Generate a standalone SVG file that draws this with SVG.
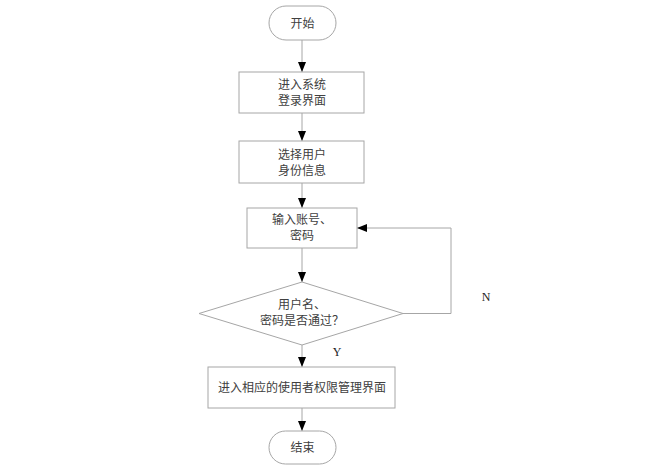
<svg xmlns="http://www.w3.org/2000/svg" width="666" height="474" viewBox="0 0 666 474">
<style>
.n{fill:#fff;stroke:#a6a6a6;stroke-width:1}
.c{fill:none;stroke:#a6a6a6;stroke-width:1}
.t{font-family:"Noto Sans CJK SC","Noto Sans",sans-serif;font-size:12px;fill:#404040;text-anchor:middle}
.l{font-family:"Liberation Serif",serif;font-size:12px;fill:#222;text-anchor:middle}
</style>
<defs>
<marker id="a" markerWidth="10" markerHeight="8" refX="10" refY="4" orient="auto" markerUnits="userSpaceOnUse" viewBox="0 0 10 8">
<path d="M0,0 L10,4 L0,8 Z" fill="#000"/>
</marker>
</defs>
<rect width="666" height="474" fill="#fff"/>
<g id="connectors">
<line class="c" x1="302" y1="40" x2="302" y2="72" marker-end="url(#a)"/>
<line class="c" x1="302" y1="113" x2="302" y2="141" marker-end="url(#a)"/>
<line class="c" x1="302" y1="183" x2="302" y2="208" marker-end="url(#a)"/>
<line class="c" x1="302" y1="248" x2="302" y2="282" marker-end="url(#a)"/>
<line class="c" x1="302" y1="345" x2="302" y2="367" marker-end="url(#a)"/>
<line class="c" x1="302" y1="408" x2="302" y2="431" marker-end="url(#a)"/>
<polyline class="c" points="403,313.5 451,313.5 451,228 357,228" marker-end="url(#a)"/>
<text class="l" x="486" y="301">N</text>
<text class="l" x="337" y="356">Y</text>
</g>
<g id="start">
<rect class="n" x="269" y="6" width="67" height="34" rx="17"/>
<text class="t" x="302.5" y="27.5">开始</text>
</g>
<g id="login">
<rect class="n" x="239" y="72" width="125" height="41"/>
<text class="t" x="302" y="89">进入系统</text>
<text class="t" x="302" y="105">登录界面</text>
</g>
<g id="select">
<rect class="n" x="239" y="141" width="125" height="42"/>
<text class="t" x="302" y="159">选择用户</text>
<text class="t" x="302" y="175">身份信息</text>
</g>
<g id="input">
<rect class="n" x="247" y="208" width="110" height="40"/>
<text class="t" x="302" y="224">输入账号、</text>
<text class="t" x="302" y="240">密码</text>
</g>
<g id="check">
<polygon class="n" points="302,282 403,313.5 302,345 199,313.5"/>
<text class="t" x="302" y="309">用户名、</text>
<text class="t" x="302" y="325">密码是否通过？</text>
</g>
<g id="enter">
<rect class="n" x="208" y="367" width="187" height="41"/>
<text class="t" x="302" y="392">进入相应的使用者权限管理界面</text>
</g>
<g id="end">
<rect class="n" x="269" y="431" width="67" height="33" rx="16.5"/>
<text class="t" x="302.5" y="452">结束</text>
</g>
</svg>
